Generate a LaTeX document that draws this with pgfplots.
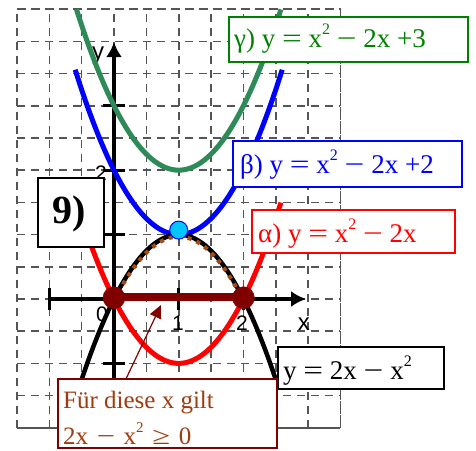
\documentclass[border=0pt]{standalone}
\usepackage{fontspec}
\setmainfont{Liberation Serif}
\setsansfont{Liberation Sans}
\usepackage{graphicx}
\usepackage{pgfplots}
\pgfplotsset{compat=1.18}
\usetikzlibrary{arrows.meta}
\definecolor{gridc}{RGB}{85,85,85}
\definecolor{gcurve}{RGB}{46,139,87}
\definecolor{gtext}{RGB}{0,128,0}
\definecolor{darkred}{RGB}{128,0,0}
\definecolor{brownt}{RGB}{158,60,15}
\definecolor{dotc}{RGB}{165,75,20}
\definecolor{cyanp}{RGB}{0,200,255}
\newcommand\sq{\raisebox{13pt}{\fontsize{16}{16}\selectfont 2}}
\newcommand\sqf{\raisebox{12pt}{\fontsize{15}{15}\selectfont 2}}
\newcommand\mi{\scalebox{1.3}[1]{−}}
\newcommand\eq{\scalebox{1.3}[1]{=}}
\newcommand\gex{\scalebox{1.3}[1]{≥}}
\newcommand\sfb{\hspace{8.6pt}}
\newcommand\pxc[3]{\coordinate (#1) at (axis cs:{(#2-114)/64.7},{(299-#3)/64.4});}
\begin{document}
\begin{tikzpicture}
\begin{axis}[
  scale only axis, width=323.5pt, height=418.6pt,
  xmin=-1.5, xmax=3.5, ymin=-2, ymax=4.5,
  xtick={-1.5,-1,-0.5,0,0.5,1,1.5,2,2.5,3,3.5},
  ytick={-2,-1.5,-1,-0.5,0,0.5,1,1.5,2,2.5,3,3.5,4,4.5},
  xticklabels={}, yticklabels={}, major tick length=0pt,
  grid=major,
  grid style={gridc, line width=1.6pt, dash pattern=on 8pt off 6pt},
  axis line style={gridc, line width=1.6pt, dash pattern=on 8pt off 6pt},
  clip=false]
\coordinate (bbsw) at (axis cs:-1.7620,-2.3447);
\coordinate (bbne) at (axis cs:5.5951,4.6429);
% coordinate axes
\draw[line width=4.5pt, -{Latex[length=15pt,width=16pt]}] (axis cs:-1,0) -- (axis cs:2.97,0);
\draw[line width=4.5pt, -{Latex[length=15pt,width=16pt]}] (axis cs:0,-1.5) -- (axis cs:0,3.99);
\draw[line width=3pt] (axis cs:-1,-0.17) -- (axis cs:-1,0.17);
\draw[line width=3pt] (axis cs:1,-0.17) -- (axis cs:1,0.17);
\draw[line width=3pt] (axis cs:2,-0.17) -- (axis cs:2,0.17);
\draw[line width=3pt] (axis cs:-0.17,-1) -- (axis cs:0.17,-1);
\draw[line width=3pt] (axis cs:-0.17,1) -- (axis cs:0.17,1);
\draw[line width=3pt] (axis cs:-0.17,2) -- (axis cs:0.17,2);
\draw[line width=3pt] (axis cs:-0.17,3) -- (axis cs:0.17,3);
\node[anchor=base, font=\sffamily\fontsize{21}{21}\selectfont] at (axis cs:{(102-114)/64.7},{(299-321)/64.4}) {0};
\node[anchor=base, font=\sffamily\fontsize{21}{21}\selectfont] at (axis cs:{(178-114)/64.7},{(299-330)/64.4}) {1};
\node[anchor=base, font=\sffamily\fontsize{21}{21}\selectfont] at (axis cs:{(242-114)/64.7},{(299-330)/64.4}) {2};
\node[anchor=base, font=\sffamily\fontsize{24}{24}\selectfont] at (axis cs:{(304-114)/64.7},{(299-330)/64.4}) {x};
\node[anchor=base, font=\sffamily\fontsize{24}{24}\selectfont] at (axis cs:{(98-114)/64.7},{(299-60)/64.4}) {y};
\node[anchor=base, font=\sffamily\fontsize{21}{21}\selectfont] at (axis cs:{(101-114)/64.7},{(299-180)/64.4}) {2};
% curves
\addplot[gcurve, line width=5pt, smooth] coordinates {(-0.58,4.4964) (-0.5,4.25) (-0.4,3.96) (-0.3,3.69) (-0.2,3.44) (-0.1,3.21) (0,3) (0.1,2.81) (0.2,2.64) (0.3,2.49) (0.4,2.36) (0.5,2.25) (0.6,2.16) (0.7,2.09) (0.8,2.04) (0.9,2.01) (1,2) (1.1,2.01) (1.2,2.04) (1.3,2.09) (1.4,2.16) (1.5,2.25) (1.6,2.36) (1.7,2.49) (1.8,2.64) (1.9,2.81) (2,3) (2.1,3.21) (2.2,3.44) (2.3,3.69) (2.4,3.96) (2.5,4.25) (2.58,4.4964)};
\addplot[blue, line width=5pt, smooth] coordinates {(-0.6,3.56) (-0.5,3.25) (-0.4,2.96) (-0.3,2.69) (-0.2,2.44) (-0.1,2.21) (0,2) (0.1,1.81) (0.2,1.64) (0.3,1.49) (0.4,1.36) (0.5,1.25) (0.6,1.16) (0.7,1.09) (0.8,1.04) (0.9,1.01) (1,1) (1.1,1.01) (1.2,1.04) (1.3,1.09) (1.4,1.16) (1.5,1.25) (1.6,1.36) (1.7,1.49) (1.8,1.64) (1.9,1.81) (2,2) (2.1,2.21) (2.2,2.44) (2.3,2.69) (2.4,2.96) (2.5,3.25) (2.6,3.56)};
\addplot[red, line width=5pt, smooth] coordinates {(-0.58,1.4964) (-0.5,1.25) (-0.4,0.96) (-0.3,0.69) (-0.2,0.44) (-0.1,0.21) (0,0) (0.1,-0.19) (0.2,-0.36) (0.3,-0.51) (0.4,-0.64) (0.5,-0.75) (0.6,-0.84) (0.7,-0.91) (0.8,-0.96) (0.9,-0.99) (1,-1) (1.1,-0.99) (1.2,-0.96) (1.3,-0.91) (1.4,-0.84) (1.5,-0.75) (1.6,-0.64) (1.7,-0.51) (1.8,-0.36) (1.9,-0.19) (2,0) (2.1,0.21) (2.2,0.44) (2.3,0.69) (2.4,0.96) (2.5,1.25) (2.58,1.4964)};
\addplot[black, line width=4.5pt, smooth] coordinates {(-0.55,-1.4025) (-0.5,-1.25) (-0.4,-0.96) (-0.3,-0.69) (-0.2,-0.44) (-0.1,-0.21) (0,0) (0.1,0.19) (0.2,0.36) (0.3,0.51) (0.4,0.64) (0.5,0.75) (0.6,0.84) (0.7,0.91) (0.8,0.96) (0.9,0.99) (1,1) (1.1,0.99) (1.2,0.96) (1.3,0.91) (1.4,0.84) (1.5,0.75) (1.6,0.64) (1.7,0.51) (1.8,0.36) (1.9,0.19) (2,0) (2.1,-0.21) (2.2,-0.44) (2.3,-0.69) (2.4,-0.96) (2.5,-1.25) (2.55,-1.4025)};
% solution interval
\addplot[darkred, line width=8pt] coordinates {(0,0.03) (2,0.03)};
\addplot[only marks, mark=*, mark size=11pt, mark options={fill=darkred, draw=darkred}] coordinates {(0,0.02) (2,0.02)};
\addplot[dotc, line width=4pt, dash pattern=on 4pt off 5.5pt, smooth, yshift=-2pt] coordinates {(0,0) (0.1,0.19) (0.2,0.36) (0.3,0.51) (0.4,0.64) (0.5,0.75) (0.6,0.84) (0.7,0.91) (0.8,0.96) (0.9,0.99) (1,1) (1.1,0.99) (1.2,0.96) (1.3,0.91) (1.4,0.84) (1.5,0.75) (1.6,0.64) (1.7,0.51) (1.8,0.36) (1.9,0.19) (2,0)};
\addplot[only marks, mark=*, mark size=9pt, mark options={fill=cyanp, draw=blue, line width=1pt}] coordinates {(1,1.07)};
% anchor points for annotations
\pxc{ga}{229}{17}\pxc{gb}{468}{62}\pxc{gt}{234}{48}
\pxc{ba}{233}{141}\pxc{bb}{462}{187}\pxc{bt}{240}{173}
\pxc{aa}{252}{210}\pxc{ab}{455}{253}\pxc{at}{258}{242}
\pxc{ka}{278}{347}\pxc{kb}{444}{389}\pxc{kt}{283}{379}
\pxc{na}{38}{178}\pxc{nb}{104}{247}\pxc{nt}{52}{223}
\pxc{fa}{58}{379}\pxc{fb}{277}{448}\pxc{ft}{63}{409}\pxc{fu}{63}{444}
\pxc{ar0}{125}{381}\pxc{ar1}{161}{305}
\end{axis}
\draw[gtext, line width=1.8pt, fill=white] (ga) rectangle (gb);
\node[anchor=base west, text=gtext, inner sep=0pt, font=\fontsize{27}{30}\selectfont] at (gt) {γ) y \eq{} x\sq{} \mi{} 2x +3};
\draw[blue, line width=1.8pt, fill=white] (ba) rectangle (bb);
\node[anchor=base west, text=blue, inner sep=0pt, font=\fontsize{27}{30}\selectfont] at (bt) {β) y \eq{} x\sq{} \mi{} 2x +2};
\draw[red, line width=1.8pt, fill=white] (aa) rectangle (ab);
\node[anchor=base west, text=red, inner sep=0pt, font=\fontsize{27}{30}\selectfont] at (at) {α) y \eq{} x\sq{} \mi{} 2x};
\draw[black, line width=1.8pt, fill=white] (ka) rectangle (kb);
\node[anchor=base west, text=black, inner sep=0pt, font=\fontsize{27}{30}\selectfont] at (kt) {y \eq{} 2x \mi{} x\sq};
\draw[black, line width=1.8pt, fill=white] (na) rectangle (nb);
\node[anchor=base west, text=black, inner sep=0pt, font=\bfseries\fontsize{40}{40}\selectfont] at (nt) {9)};
\draw[darkred, line width=1.2pt, -{Triangle[length=13pt,width=12pt]}] (ar0) -- (ar1);
\draw[darkred, line width=1.8pt, fill=white] (fa) rectangle (fb);
\node[anchor=base west, text=brownt, inner sep=0pt, font=\fontsize{25}{30}\selectfont] at (ft) {Für diese x gilt};
\node[anchor=base west, text=brownt, inner sep=0pt, font=\fontsize{25}{30}\selectfont] at (fu) {2x\sfb\mi\sfb x\sqf\sfb\gex\sfb 0};
\pgfresetboundingbox
\path[use as bounding box] (bbsw) rectangle (bbne);
\end{tikzpicture}
\end{document}
